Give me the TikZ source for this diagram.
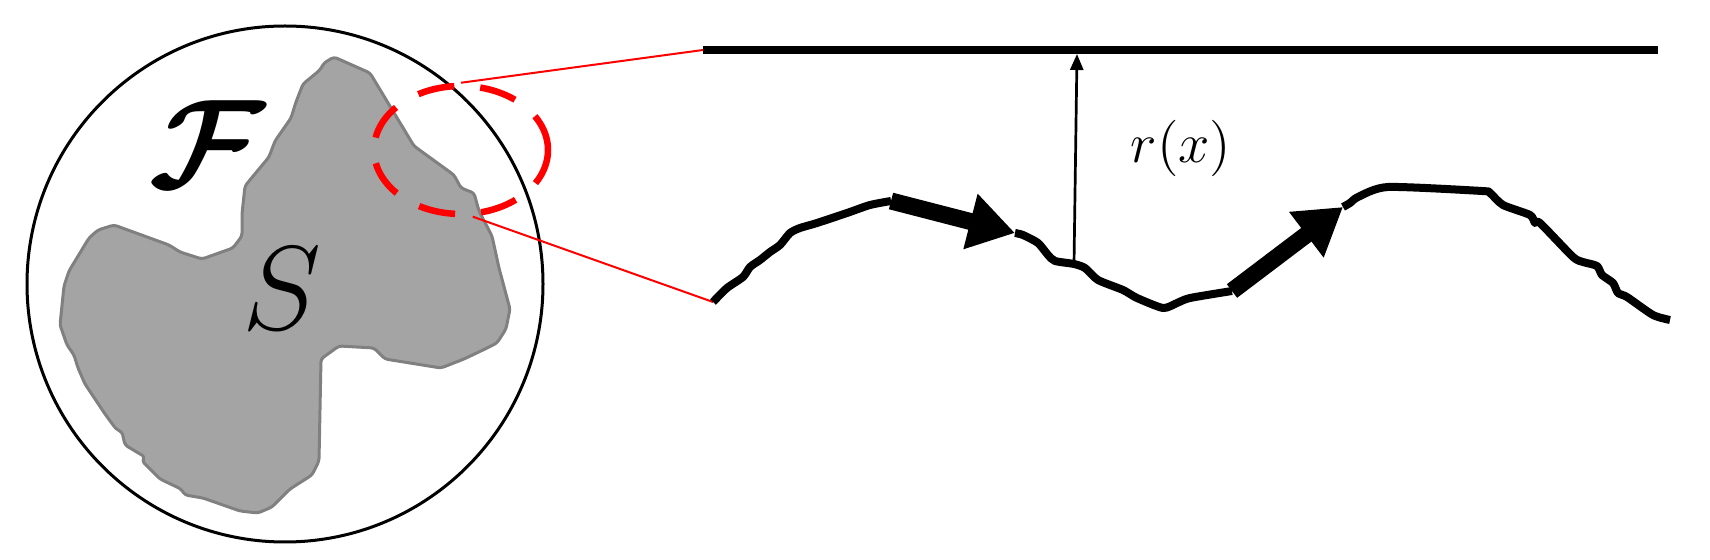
\RequirePackage{fix-cm}
\documentclass[tikz,border=0pt]{standalone}
\usepackage{amsmath}
\usepackage{tikz}
\usetikzlibrary{arrows.meta, shapes.geometric}
\definecolor{sGray}{HTML}{A4A4A4}
\definecolor{sEdge}{HTML}{808080}
\definecolor{zRed}{HTML}{FF0000}

\begin{document}
\begin{tikzpicture}[
  x=0.1mm, y=-0.1mm,
  ball/.style={circle, draw, line width=0.3mm, minimum size=51.6mm, inner sep=0pt},
  blob/.style={fill=sGray, draw=sEdge, line width=0.3mm, rounded corners=0.3mm,
               line join=round},
  lens/.style={ellipse, draw=zRed, line width=0.65mm, inner sep=0pt,
               dash pattern=on 3.7mm off 2.6mm,
               minimum width=17.4mm, minimum height=12.8mm},
  zoomline/.style={draw=zRed, line width=0.2mm},
  trail/.style={line width=0.8mm, line join=round},
  push/.style={line width=1.7mm, -{Triangle[length=4.6mm, width=5.4mm]}},
  gap/.style={line width=0.27mm, -{Triangle[length=1.6mm, width=1.3mm]}},
  letter/.style={font=\fontsize{34}{38}\selectfont, inner sep=0pt},
]
  \useasboundingbox (0,0) rectangle (1710,560);

  \node[ball] (world) at (285,284) {};
  \draw[blob] (334,57) -- (370,73) -- (414,146) -- (454,175) -- (461,188)
    -- (474,193) -- (479,211) -- (492,236) -- (499,268) -- (510,309)
    -- (506,329) -- (497,343) -- (483,350) -- (464,359) -- (441,368)
    -- (385,359) -- (374,348) -- (339,346) -- (321,359) -- (319,461)
    -- (312,475) -- (290,489) -- (272,507) -- (258,513) -- (240,511)
    -- (203,498) -- (185,495) -- (181,489) -- (160,479) -- (142,461)
    -- (145,457) -- (125,445) -- (122,432) -- (116,429) -- (105,414)
    -- (85,384) -- (78,368) -- (74,355) -- (67,345) -- (60,325)
    -- (64,286) -- (69,271) -- (89,238) -- (98,230) -- (114,225)
    -- (169,245) -- (180,252) -- (202,259) -- (233,248) -- (242,236)
    -- (242,214) -- (245,186) -- (254,175) -- (269,157) -- (275,141)
    -- (291,118) -- (296,102) -- (303,84) -- (320,70) -- (324,63) -- cycle;
  \node[letter, font=\fontsize{36}{40}\selectfont] (family) at (207,144)
    {$\boldsymbol{\mathcal{F}}$};
  \node[letter] (set) at (282,289) {$S$};
  \node[lens] (ring) at (461,150) {};

  \coordinate (lineL) at (703,50);
  \coordinate (lineR) at (1658,50);
  \coordinate (start) at (713,302);
  \coordinate (a1) at (891,201);
  \coordinate (a1tip) at (1015,233);
  \coordinate (a2) at (1232,291);
  \coordinate (a2tip) at (1343,207);
  \coordinate (foot) at (1074,264);
  \coordinate (roof) at (1077,54);

  \draw[line width=0.8mm] (lineL) -- (lineR);
  \draw[zoomline] (ring.north) -- (lineL);
  \draw[zoomline] (ring.-80) -- (start);

  \draw[trail] plot[smooth, tension=0.4] coordinates {
    (start) (727,288) (743,277) (750,267) (760,260) (770,252) (780,245)
    (790,233) (800,228) (817,223) (847,213) (870,205) (a1)};
  \draw[trail] plot[smooth, tension=0.4] coordinates {
    (a1tip) (1023,235) (1038,243) (1048,255) (1055,261) (foot) (1085,268)
    (1098,280) (1123,290) (1137,298) (1163,308) (1177,303) (1190,298) (a2)};
  \draw[trail] plot[smooth, tension=0.4] coordinates {
    (a2tip) (1350,203) (1358,197) (1388,187) (1482,191) (1490,193)
    (1503,205) (1530,215) (1535,223) (1540,223) (1573,257) (1583,262)
    (1597,266) (1602,275) (1613,283) (1618,293) (1627,297) (1653,315)
    (1670,320)};
  \draw[push] (a1) -- (a1tip);
  \draw[push] (a2) -- (a2tip);

  \draw[gap] (foot) -- (roof);
  \node[font=\fontsize{16}{18}\selectfont] (dist) at (1181,148) {$r(x)$};
\end{tikzpicture}
\end{document}
